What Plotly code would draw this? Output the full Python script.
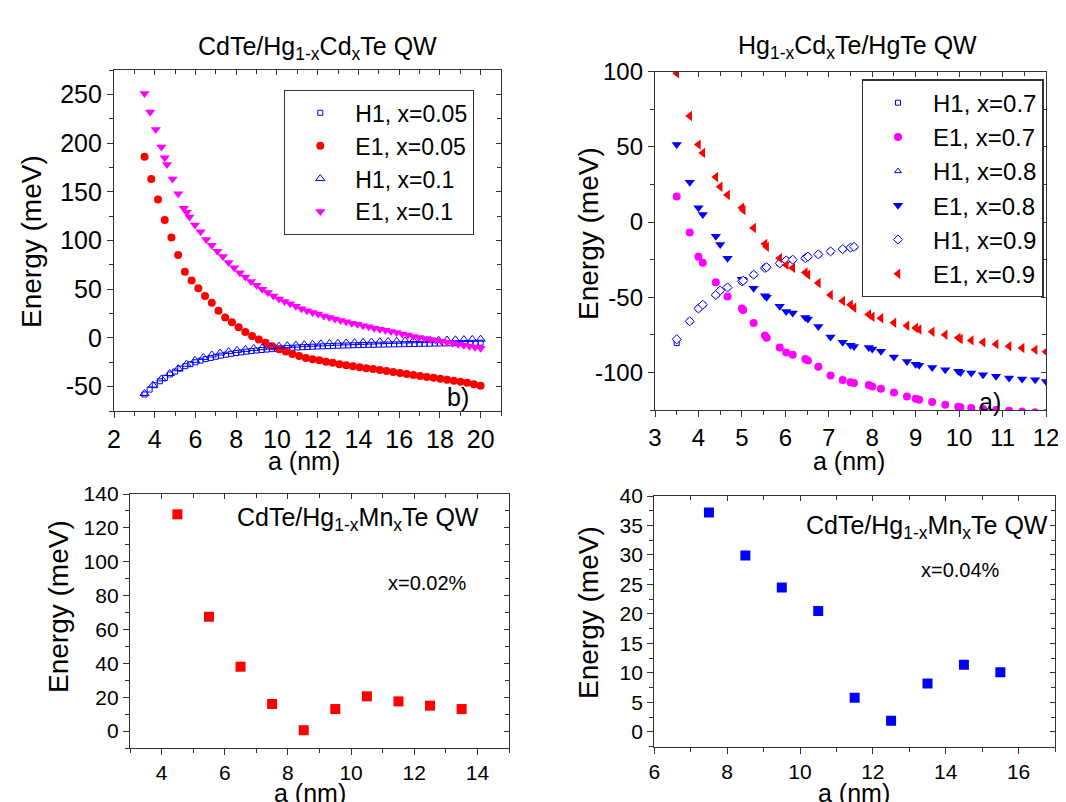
import plotly.graph_objects as go

FONT = "Liberation Sans, Arial, sans-serif"
BLUE, RED, MAG = "#0000ff", "#ff0000", "#ff00ff"

# ---------------- Top-left: CdTe/Hg1-xCdxTe QW ----------------
a_h1_005 = [3.5, 3.75, 4.0, 4.25, 4.5, 4.75, 5.0, 5.25, 5.5, 5.75, 6.0, 6.25, 6.5, 6.75, 7.0, 7.25,
            7.5, 7.75, 8.0, 8.25, 8.5, 8.75, 9.0, 9.25, 9.5, 9.75, 10.0, 10.25, 10.5, 10.75, 11.0,
            11.25, 11.5, 11.75, 12.0, 12.25, 12.5, 12.75, 13.0, 13.25, 13.5, 13.75, 14.0, 14.25,
            14.5, 14.75, 15.0, 15.25, 15.5, 15.75, 16.0, 16.25, 16.5, 16.75, 17.0, 17.25, 17.5,
            17.75, 18.0, 18.25, 18.5, 18.75, 19.0, 19.25, 19.5, 19.75, 20.0]
e_h1_005 = [-58, -53, -48.5, -44.5, -41, -37.5, -34.5, -31.5, -29, -27, -25, -23.3, -21.8, -20.5,
            -19.3, -18.2, -17.2, -16.3, -15.5, -14.8, -14.1, -13.5, -12.9, -12.4, -11.9, -11.5,
            -11.1, -10.7, -10.4, -10.1, -9.8, -9.5, -9.3, -9.0, -8.8, -8.6, -8.4, -8.2, -8.0, -7.8,
            -7.7, -7.5, -7.4, -7.2, -7.1, -7.0, -6.9, -6.8, -6.7, -6.6, -6.5, -6.4, -6.3, -6.2,
            -6.1, -6.0, -5.9, -5.8, -5.7, -5.6, -5.5, -5.4, -5.3, -5.2, -5.1, -5.0, -4.9]

a_e1_005 = [3.50, 3.83, 4.16, 4.49, 4.82, 5.15, 5.48, 5.81, 6.14, 6.47, 6.80, 7.13, 7.46, 7.79,
            8.12, 8.45, 8.78, 9.11, 9.44, 9.77, 10.10, 10.43, 10.76, 11.09, 11.42, 11.75, 12.08,
            12.41, 12.74, 13.07, 13.40, 13.73, 14.06, 14.39, 14.72, 15.05, 15.38, 15.71, 16.04,
            16.37, 16.70, 17.03, 17.36, 17.69, 18.02, 18.35, 18.68, 19.01, 19.34, 19.67, 20.00]
e_e1_005 = [186, 163, 142, 121, 103, 85, 68, 59, 51, 43, 36, 28, 21, 16, 11, 6, 2, -1.5, -5, -8.5,
            -11.5, -14, -16.5, -18.5, -20.5, -22, -23, -24.5, -25.5, -27, -28, -29, -30, -31, -32,
            -33, -34, -35, -36, -37, -38, -39, -40, -41, -42, -43, -44, -45, -46, -47.5, -49]

a_h1_01 = [3.50, 3.91, 4.33, 4.74, 5.15, 5.56, 5.98, 6.39, 6.80, 7.21, 7.63, 8.04, 8.45, 8.86, 9.28,
           9.69, 10.10, 10.51, 10.93, 11.34, 11.75, 12.16, 12.58, 12.99, 13.40, 13.81, 14.23, 14.64,
           15.05, 15.46, 15.88, 16.29, 16.70, 17.11, 17.53, 17.94, 18.35, 18.76, 19.18, 19.59, 20.00]
e_h1_01 = [-57, -48.5, -42, -36.5, -31.5, -27, -23, -20, -17.5, -15.5, -14, -12.8, -11.8, -10.8,
           -10, -9.2, -8.5, -7.9, -7.4, -6.9, -6.5, -6.1, -5.7, -5.4, -5.1, -4.8, -4.5, -4.2, -3.9,
           -3.6, -3.4, -3.1, -2.9, -2.7, -2.5, -2.3, -2.1, -1.9, -1.7, -1.5, -1.3]

a_e1_01 = [3.50, 3.775, 4.05, 4.325, 4.49, 4.60, 4.875, 5.15, 5.425, 5.57, 5.70, 5.975, 6.25, 6.525,
           6.80, 7.075, 7.35, 7.625, 7.90, 8.175, 8.45, 8.725, 9.00, 9.275, 9.55, 9.825, 10.10,
           10.375, 10.65, 10.925, 11.20, 11.475, 11.75, 12.025, 12.30, 12.575, 12.85, 13.125,
           13.40, 13.675, 13.95, 14.225, 14.50, 14.775, 15.05, 15.325, 15.60, 15.875, 16.15,
           16.425, 16.70, 16.975, 17.25, 17.525, 17.80, 18.075, 18.35, 18.625, 18.90, 19.175,
           19.45, 19.725, 20.00]
e_e1_01 = [251, 232, 214, 196, 185, 178, 163, 148, 133, 129, 124, 116, 109, 101, 95, 89, 83.5,
           77.5, 72, 67, 62.5, 58, 54, 50, 46.5, 43, 40, 37.5, 35, 32.5, 30, 28, 26, 24.5, 22.5,
           21, 19.5, 18, 16.5, 15, 14, 12.5, 11.5, 10, 9, 8, 6.5, 5.5, 4, 3, 1.5, 0.5, -0.5, -1.5,
           -2.5, -3.5, -4.5, -5.5, -6.5, -7.5, -8.5, -9.5, -10.5]

# ---------------- Top-right: Hg1-xCdxTe/HgTe QW ----------------
a_hg = [3.5, 3.8, 4.0, 4.1, 4.4, 4.5, 4.67, 5.0, 5.03, 5.27, 5.53, 5.57, 5.87, 6.02, 6.17, 6.46,
        6.52, 6.76, 7.04, 7.32, 7.5, 7.58, 7.92, 8.0, 8.2, 8.5, 8.8, 9.0, 9.08, 9.38, 9.68, 9.98,
        10.03, 10.28, 10.55, 10.85, 11.15, 11.45, 11.75, 12.0]
e_e1_09 = [99, 70.5, 51.5, 46, 30, 23.5, 18, 9.5, 8, -4, -14.5, -16.5, -24, -28.5, -30.5, -33.5,
           -35, -40.5, -48.5, -52.5, -55, -57, -61.5, -63, -64, -67, -69, -70.5, -71.5, -73, -75,
           -77, -77.8, -78.7, -80, -81.2, -82.6, -83.8, -85, -86.2]
e_e1_08 = [51.5, 26.5, 9.5, 5, -9.5, -15, -24, -38, -39, -44, -49, -50, -56, -59.5, -60.5, -63.5,
           -64.5, -69.5, -76.5, -80, -82, -82.7, -83.5, -84.5, -86, -89.8, -92.7, -94.5, -95.3,
           -96.7, -98.2, -99.3, -100, -100.4, -101.5, -102.6, -103.8, -104.4, -104.9, -106]
a_h1_hg = [3.5, 3.8, 4.0, 4.1, 4.4, 4.5, 4.67, 5.0, 5.03, 5.27, 5.53, 5.57, 5.87, 6.02, 6.17, 6.46,
           6.52, 6.76, 7.04, 7.32, 7.5, 7.58, 7.92, 8.0, 8.2, 8.5, 8.8, 9.0, 9.08, 9.38, 9.68,
           9.98, 10.03, 10.28, 10.55, 10.85, 11.15, 11.45]
e_h1_09 = [-78, -66, -57.5, -55, -48.5, -45.5, -43.5, -39.5, -39, -35, -30.5, -30, -27.5, -25.5,
           -25, -24, -23, -21.5, -19.5, -18, -17, -16.5, -15.5, -15.2, -14.6, -14, -13.4, -13,
           -12.8, -12.3, -11.9, -11.5, -11.4, -11, -10.7, -10.4, -10.1, -9.8]
e_h1_08 = [-78, -66, -57.5, -55, -48.5, -45.5, -43.5, -39.5, -39, -35, -30.5, -30, -27.5, -25.5,
           -25, -24, -23, -21.5, -19.5, -18, -17, -16.5, -15.5, -15.2, -14.6, -14, -13.4, -13,
           -12.8, -12.3, -11.9, -11.5, -11.4, -11, -10.7, -10.4, -10.1, -9.8]
e_h1_07 = [-80.5, -66, -57.5, -55, -48.5, -45.5, -43.5, -39.5, -39, -35, -30.5, -30, -27.5, -25.5,
           -25, -24, -23, -21.5, -19.5, -18, -17, -16.5, -15.5, -15.2, -14.6, -14, -13.4, -13,
           -12.8, -12.3, -11.9, -11.5, -11.4, -11, -10.7, -10.4, -10.1, -9.8]
a_e1_07 = [3.5, 3.8, 4.0, 4.1, 4.4, 4.67, 5.0, 5.03, 5.27, 5.53, 5.57, 5.87, 6.02, 6.17, 6.46,
           6.52, 6.76, 7.04, 7.32, 7.5, 7.58, 7.92, 8.0, 8.2, 8.5, 8.8, 9.0, 9.08, 9.38, 9.68, 9.98,
           10.03, 10.28, 10.55, 10.85, 11.15, 11.45, 11.75, 12.0]
e_e1_07 = [17, -7, -23, -27, -40, -49.5, -57.5, -58.5, -67.2, -75.5, -77, -83.5, -86.7, -88.2,
           -91, -92, -96.3, -102, -105, -106.5, -107, -108.3, -109.3, -110.8, -113.3, -116,
           -117.5, -118.2, -119.7, -121.5, -122.8, -123.2, -123.7, -124.4, -125, -125.5, -126,
           -126.5, -127]

# ---------------- Bottom: CdTe/Hg1-xMnxTe QW ----------------
a_mn002 = [4.5, 5.5, 6.5, 7.5, 8.5, 9.5, 10.5, 11.5, 12.5, 13.5]
e_mn002 = [128, 67.5, 38, 16, 0.5, 13, 20.5, 17.5, 15, 13]
a_mn004 = [7.5, 8.5, 9.5, 10.5, 11.5, 12.5, 13.5, 14.5, 15.5]
e_mn004 = [37.2, 29.9, 24.5, 20.5, 5.8, 1.9, 8.2, 11.4, 10.1]

# tick labels (hyphen minus as in the original)
tl_yvals = [-50, 0, 50, 100, 150, 200, 250]
tl_ytext = ["-50", "0", "50", "100", "150", "200", "250"]
tr_yvals = [-100, -50, 0, 50, 100]
tr_ytext = ["-100", "-50", "0", "50", "100"]

W, H = 1066, 802
OFF = 8  # page body margin in the browser
def px(x): return (x - OFF) / W
def py(y): return 1 - (y - OFF) / H

fig = go.Figure()

def add(x, y, ax, name, symbol, color, size, legend=None, fill=None, lw=1.2):
    marker = dict(symbol=symbol, color=color if fill is None else fill, size=size,
                  line=dict(color=color, width=lw))
    fig.add_trace(go.Scatter(x=x, y=y, mode="markers", name=name, marker=marker,
                             xaxis="x" + ax, yaxis="y" + ax, showlegend=legend is not None,
                             legend=legend if legend else "legend", hoverinfo="skip"))

# TL traces
add(a_h1_005, e_h1_005, "", "H1, x=0.05", "square-open", BLUE, 5, "legend", lw=1)
add(a_e1_005, e_e1_005, "", "E1, x=0.05", "circle", RED, 8, "legend", lw=0)
add(a_h1_01, e_h1_01, "", "H1, x=0.1", "triangle-up-open", BLUE, 8, "legend", lw=1)
add(a_e1_01, e_e1_01, "", "E1, x=0.1", "triangle-down", MAG, 9, "legend", lw=0)
# TR traces
add(a_h1_hg, e_h1_07, "2", "H1, x=0.7", "square-open", BLUE, 5, "legend2", lw=1)
add(a_e1_07, e_e1_07, "2", "E1, x=0.7", "circle", MAG, 8, "legend2", lw=0)
add(a_h1_hg, e_h1_08, "2", "H1, x=0.8", "triangle-up-open", BLUE, 6, "legend2", lw=1)
add(a_hg, e_e1_08, "2", "E1, x=0.8", "triangle-down", BLUE, 9, "legend2", lw=0)
add(a_h1_hg, e_h1_09, "2", "H1, x=0.9", "diamond", BLUE, 7, "legend2", fill="white", lw=1)
add(a_hg, e_e1_09, "2", "E1, x=0.9", "triangle-left", RED, 9, "legend2", lw=0)
# bottom
add(a_mn002, e_mn002, "3", "x=0.02%", "square", RED, 10, None, lw=0)
add(a_mn004, e_mn004, "4", "x=0.04%", "square", BLUE, 10, None, lw=0)

LC = "#333333"
def main_axis(domain, rng, dtick, mdtick, fs, anchor, **kw):
    d = dict(domain=domain, range=rng, anchor=anchor, showline=True, mirror=True,
             linecolor=LC, linewidth=1.3, ticks="outside", ticklen=6, tickwidth=1.3,
             tickcolor=LC, showgrid=False, zeroline=False, dtick=dtick, tick0=0,
             automargin=False,
             tickfont=dict(size=fs, color="black", family=FONT),
             minor=dict(ticks="outside", ticklen=4, tickwidth=1.3, tickcolor=LC,
                        dtick=mdtick, tick0=0, showgrid=False))
    d.update(kw)
    return d

def over_axis(over, side, rng, dtick, mdtick, anchor):
    return dict(overlaying=over, side=side, range=rng, anchor=anchor, showline=False,
                ticks="inside", ticklen=5, tickwidth=1.3, tickcolor=LC, showgrid=False,
                zeroline=False, showticklabels=False, dtick=dtick, tick0=0, automargin=False,
                minor=dict(ticks="inside", ticklen=4, tickwidth=1.3, tickcolor=LC,
                           dtick=mdtick, tick0=0, showgrid=False))

panels = {
    "": dict(xd=[px(114), px(501)], yd=[py(411), py(70)], xr=[2, 21], yr=[-75, 275],
             xdt=2, xm=1, ydt=50, ym=25, fs=25, yv=tl_yvals, yt=tl_ytext),
    "2": dict(xd=[px(655), px(1046)], yd=[py(410), py(71.7)], xr=[3, 12], yr=[-125, 100],
              xdt=1, xm=0.5, ydt=50, ym=25, fs=24, yv=tr_yvals, yt=tr_ytext),
    "3": dict(xd=[px(130), px(509)], yd=[py(748), py(494)], xr=[3, 15], yr=[-10, 140],
              xdt=2, xm=1, ydt=20, ym=10, fs=21, yv=None, yt=None),
    "4": dict(xd=[px(654.3), px(1055)], yd=[py(746.7), py(496)], xr=[6, 17], yr=[-2.5, 40],
              xdt=2, xm=1, ydt=5, ym=2.5, fs=21, yv=None, yt=None),
}
over_ids = {"": "5", "2": "6", "3": "7", "4": "8"}

lay = {}
for k, p in panels.items():
    xn, yn = "xaxis" + k, "yaxis" + k
    lay[xn] = main_axis(p["xd"], p["xr"], p["xdt"], p["xm"], p["fs"], "y" + k)
    ykw = {}
    if p["yv"] is not None:
        ykw = dict(tickmode="array", tickvals=p["yv"], ticktext=p["yt"])
    lay[yn] = main_axis(p["yd"], p["yr"], p["ydt"], p["ym"], p["fs"], "x" + k, **ykw)
    o = over_ids[k]
    xo = "x" + (k if k else "")
    yo = "y" + (k if k else "")
    lay["xaxis" + o] = over_axis(xo, "top", p["xr"], p["xdt"], p["xm"], "y" + o)
    lay["yaxis" + o] = over_axis(yo, "right", p["yr"], p["ydt"], p["ym"], "x" + o)
    fig.add_trace(go.Scatter(x=[None], y=[None], xaxis="x" + o, yaxis="y" + o,
                             showlegend=False, hoverinfo="skip", mode="markers"))

fig.update_layout(**lay)

def ann(text, x, y, size, angle=0, xa="center", ya="middle"):
    fig.add_annotation(text=text, x=px(x), y=py(y), xref="paper", yref="paper",
                       showarrow=False, textangle=angle, xanchor=xa, yanchor=ya,
                       font=dict(size=size, color="black", family=FONT))

ann("CdTe/Hg<sub>1-x</sub>Cd<sub>x</sub>Te QW", 317, 48, 25)
ann("Hg<sub>1-x</sub>Cd<sub>x</sub>Te/HgTe QW", 857, 47, 25)
ann("Energy (meV)", 32, 242, 28, -90)
ann("a (nm)", 304, 461, 25)
ann("Energy (meV)", 588, 234, 28, -90)
ann("a (nm)", 849, 461, 25)
ann("Energy (meV)", 58, 607, 28, -90)
ann("a (nm)", 310, 793, 25)
ann("Energy (meV)", 588, 613, 28, -90)
ann("a (nm)", 854, 793, 25)
ann("b)", 458, 397, 25)
ann("a)", 990, 402, 25)
ann("CdTe/Hg<sub>1-x</sub>Mn<sub>x</sub>Te QW", 358, 519, 25)
ann("x=0.02%", 427, 583, 20)
ann("CdTe/Hg<sub>1-x</sub>Mn<sub>x</sub>Te QW", 926.5, 527, 25)
ann("x=0.04%", 960.5, 570, 20)

leg_common = dict(xanchor="left", yanchor="top", bgcolor="white", bordercolor=LC,
                  borderwidth=1.3, itemwidth=60, tracegroupgap=0)
fig.update_layout(
    width=W, height=H, margin=dict(l=0, r=0, t=0, b=0, autoexpand=False),
    paper_bgcolor="white", plot_bgcolor="white",
    font=dict(family=FONT, color="black"),
    legend=dict(x=px(284), y=py(90), font=dict(size=23, color="black", family=FONT),
                **leg_common),
    legend2=dict(x=px(861.7), y=py(79.3), font=dict(size=24, color="black", family=FONT),
                 **leg_common),
)

fig.write_html("out.html")
